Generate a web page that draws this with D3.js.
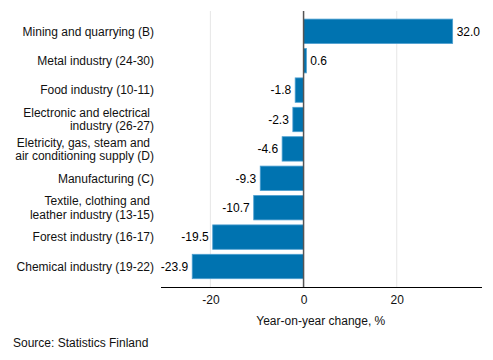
<!DOCTYPE html>
<html>
<head>
<meta charset="utf-8">
<script src="https://cdn.jsdelivr.net/npm/d3@7"></script>
<style>
  body { margin: 0; background: #fff; }
  svg { font-family: "Liberation Sans", Arial, sans-serif; }
</style>
</head>
<body>
<svg id="chart" width="493" height="360"></svg>
<script>
// industries, top to bottom (each entry = label lines)
const categories = [
    ['Mining and quarrying (B)'],
    ['Metal industry (24-30)'],
    ['Food industry (10-11)'],
    ['Electronic and electrical', 'industry (26-27)'],
    ['Eletricity, gas, steam and', 'air conditioning supply (D)'],
    ['Manufacturing (C)'],
    ['Textile, clothing and', 'leather industry (13-15)'],
    ['Forest industry (16-17)'],
    ['Chemical industry (19-22)'],
];
const values = [32.0, 0.6, -1.8, -2.3, -4.6, -9.3, -10.7, -19.5, -23.9];
const ticks = [-20, 0, 20];

const svg = d3.select('#chart');
const plotL = 161, plotR = 482, plotT = 11, plotB = 287;

const x = d3.scaleLinear().domain([-30.6, 38.3]).range([plotL, plotR]);
const y = d3.scaleBand()
    .domain(d3.range(categories.length))
    .range([16.6, 281.2])
    .paddingInner(0.17)
    .paddingOuter(0.085);

// grid
svg.append('g').selectAll('line').data(ticks.filter(t => t !== 0)).join('line')
    .attr('x1', d => x(d)).attr('x2', d => x(d))
    .attr('y1', plotT).attr('y2', plotB)
    .attr('stroke', '#e6e6e6').attr('stroke-width', 1);

// bars
svg.append('g').selectAll('rect').data(values).join('rect')
    .attr('x', d => x(Math.min(0, d)))
    .attr('width', d => Math.abs(x(d) - x(0)))
    .attr('y', (d, i) => y(i))
    .attr('height', y.bandwidth())
    .attr('fill', '#0073b0')
    .attr('stroke', '#4d9fd0').attr('stroke-width', 0.8);

// zero line
svg.append('line')
    .attr('x1', x(0)).attr('x2', x(0))
    .attr('y1', plotT).attr('y2', plotB)
    .attr('stroke', '#555').attr('stroke-width', 1.5);

// value labels
svg.append('g').selectAll('text').data(values).join('text')
    .attr('x', d => d >= 0 ? x(d) + 4 : x(d) - 4)
    .attr('y', (d, i) => y(i) + y.bandwidth() / 2)
    .attr('dy', '0.35em')
    .attr('text-anchor', d => d >= 0 ? 'start' : 'end')
    .attr('font-size', 12).attr('fill', '#000')
    .text(d => d.toFixed(1));

// category labels
const cat = svg.append('g').selectAll('text').data(categories).join('text')
    .attr('text-anchor', 'end')
    .attr('font-size', 12).attr('fill', '#111')
    .attr('y', (d, i) => y(i) + y.bandwidth() / 2);
cat.each(function (lines) {
    const t = d3.select(this);
    lines.forEach((ln, j) => {
        t.append('tspan')
            .attr('x', lines.length > 1 && j === 0 ? 150 : 154)
            .attr('dy', j === 0 ? (lines.length > 1 ? '-0.2em' : '0.35em') : '1.1em')
            .text(ln);
    });
});

// x axis
const axis = svg.append('g').attr('transform', `translate(0,${plotB})`)
    .call(d3.axisBottom(x).tickValues(ticks).tickSize(0).tickPadding(8).tickFormat(d => String(d)));
axis.select('.domain').attr('stroke', '#000').attr('d', `M${plotL},0.5H${plotR}`);
axis.selectAll('text').attr('font-size', 12).attr('fill', '#111')
    .attr('font-family', '"Liberation Sans", Arial, sans-serif');

svg.append('text')
    .attr('x', x(3.7)).attr('y', 325)
    .attr('text-anchor', 'middle')
    .attr('font-size', 12).attr('fill', '#111')
    .text('Year-on-year change, %');

svg.append('text')
    .attr('x', 13).attr('y', 347)
    .attr('font-size', 12).attr('fill', '#111')
    .text('Source: Statistics Finland');
</script>
</body>
</html>
